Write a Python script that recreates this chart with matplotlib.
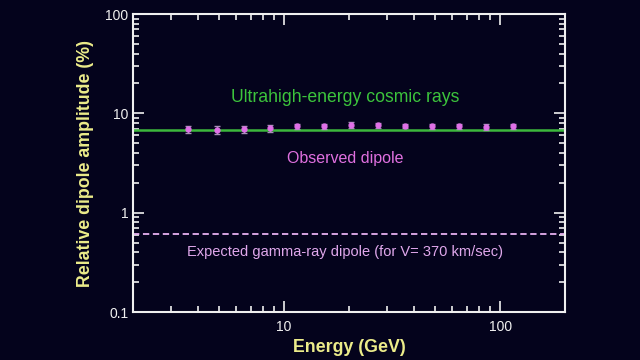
import matplotlib
matplotlib.use("Agg")
import matplotlib.pyplot as plt
from matplotlib.ticker import LogLocator, NullFormatter, FixedLocator, FixedFormatter

# data
energy = [3.6, 4.9, 6.5, 8.6, 11.5, 15.3, 20.4, 27.2, 36.3, 48.4, 64.6, 86.1, 115.0]
dipole = [6.9, 6.8, 6.9, 7.1, 7.4, 7.4, 7.6, 7.6, 7.5, 7.4, 7.4, 7.3, 7.4]
dipole_err = [0.6, 0.6, 0.6, 0.6, 0.4, 0.4, 0.5, 0.4, 0.4, 0.4, 0.4, 0.5, 0.4]
uhecr_level = 6.85
gamma_level = 0.615

bg = "#04031c"
fg = "#f0f0f0"
ylw = "#ecec8a"

plt.rcParams['font.family'] = ['Liberation Sans', 'DejaVu Sans']

fig = plt.figure(figsize=(6.4, 3.6), dpi=100, facecolor=bg)
ax = fig.add_axes([0.208, 0.133, 0.675, 0.828], facecolor=bg)

ax.set_xscale("log")
ax.set_yscale("log")
ax.set_xlim(2, 200)
ax.set_ylim(0.1, 100)

ax.axhline(uhecr_level, color="#3cb83c", lw=1.8, zorder=2)
ax.axhline(gamma_level, color="#e6b0f0", lw=1.3, ls=(0, (3.5, 2)), zorder=2)
ax.errorbar(energy, dipole, yerr=dipole_err, fmt="o", ms=3.5, color="#e070e8",
            ecolor="#a890b8", elinewidth=1, capsize=2, zorder=3)

# annotations, placed in pixels from the top-left like the picture
labels = [
    (345, 98, "Ultrahigh-energy cosmic rays", "#3cc43c", 12.7),
    (345, 158, "Observed dipole", "#e070e0", 11.5),
    (345, 252, "Expected gamma-ray dipole (for V= 370 km/sec)", "#e0a8ec", 10.5),
]
for x, y, s, c, fs in labels:
    ax.text(x, 360 - y, s, transform=None, color=c, fontsize=fs,
            ha="center", va="center")

for s in ax.spines.values():
    s.set_color(fg)
    s.set_linewidth(1.5)

ax.xaxis.set_major_locator(FixedLocator([10, 100]))
ax.xaxis.set_major_formatter(FixedFormatter(["10", "100"]))
ax.xaxis.set_minor_locator(LogLocator(base=10, subs=range(2, 10)))
ax.xaxis.set_minor_formatter(NullFormatter())
ax.yaxis.set_major_locator(FixedLocator([0.1, 1, 10, 100]))
ax.yaxis.set_major_formatter(FixedFormatter(["0.1", "1", "10", "100"]))
ax.yaxis.set_minor_locator(LogLocator(base=10, subs=range(2, 10)))
ax.yaxis.set_minor_formatter(NullFormatter())

ax.tick_params(which="both", direction="in", top=True, right=True, colors=fg,
               labelsize=10)
ax.tick_params(which="major", length=8, width=1.2)
ax.tick_params(which="minor", length=4, width=1.2)
ax.tick_params(axis="x", pad=6)

ax.set_xlabel("Energy (GeV)", color=ylw, fontsize=12.8, fontweight="bold", labelpad=3)
ax.set_ylabel("Relative dipole amplitude (%)", color=ylw, fontsize=12.8,
              fontweight="bold", labelpad=8)

fig.savefig("out.png", dpi=100, facecolor=bg)
